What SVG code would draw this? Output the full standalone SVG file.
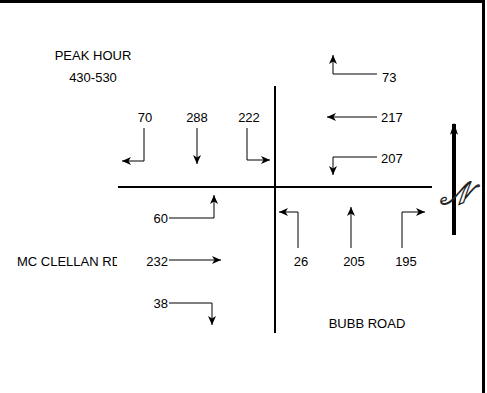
<svg xmlns="http://www.w3.org/2000/svg" width="487" height="393" viewBox="0 0 487 393">
<style>
text{font-family:"Liberation Sans",Arial,sans-serif;font-size:13px;fill:#000}
.m{text-anchor:middle}
.e{text-anchor:end}
.road{stroke:#000;stroke-width:2;fill:none}
.mv{stroke:#000;stroke-width:1;fill:none;marker-end:url(#ah)}
</style>
<defs>
<marker id="ah" markerUnits="userSpaceOnUse" markerWidth="10" markerHeight="8" refX="9" refY="4" orient="auto">
<path d="M0,0 L9,4 L0,8 L2.5,4 Z" fill="#000"/>
</marker>
<marker id="nh" markerUnits="userSpaceOnUse" markerWidth="12" markerHeight="18" refX="16" refY="6" orient="auto" viewBox="0 0 18 12">
<path d="M0,0 L18,6 L0,12 L4,6 Z" fill="#000"/>
</marker>
<clipPath id="clipRd"><rect x="0" y="240" width="117" height="40"/></clipPath>
</defs>
<rect width="487" height="393" fill="#fff"/>
<g id="frame">
<line x1="0" y1="1.5" x2="485" y2="1.5" stroke="#000" stroke-width="3"/>
<line x1="483.5" y1="0" x2="483.5" y2="393" stroke="#000" stroke-width="3"/>
</g>
<g id="roads">
<line class="road" x1="275" y1="86" x2="275" y2="333"/>
<line class="road" x1="118" y1="187" x2="432" y2="187"/>
</g>
<g id="north">
<line x1="454" y1="235" x2="454" y2="124" stroke="#000" stroke-width="4" marker-end="url(#nh)"/>
<text x="455" y="204" class="m" style="font-family:'DejaVu Serif',serif;font-size:32px;font-style:italic;fill:#fff;stroke:#222;stroke-width:1.2">𝒩</text>
</g>
<g id="labels">
<text x="93" y="60" class="m">PEAK HOUR</text>
<text x="93" y="82" class="m">430-530</text>
<text x="17" y="266" clip-path="url(#clipRd)">MC CLELLAN RD</text>
<text x="367" y="328" class="m">BUBB ROAD</text>
</g>
<g id="connectors">
<path class="mv" d="M144,128 V161 H122"/>
<path class="mv" d="M197,128 V164"/>
<path class="mv" d="M247,128 V160 H270"/>
<path class="mv" d="M377,74 H333 V55"/>
<path class="mv" d="M377,117 H327"/>
<path class="mv" d="M377,157 H333 V175"/>
<path class="mv" d="M169,218 H214 V195"/>
<path class="mv" d="M169,260 H221"/>
<path class="mv" d="M169,303 H212 V325"/>
<path class="mv" d="M298,248 V212 H279"/>
<path class="mv" d="M351,248 V207"/>
<path class="mv" d="M402,248 V212 H425"/>
</g>
<g id="volumes">
<text x="145" y="122" class="m">70</text>
<text x="197" y="122" class="m">288</text>
<text x="249" y="122" class="m">222</text>
<text x="382" y="82">73</text>
<text x="381" y="122">217</text>
<text x="381" y="163">207</text>
<text x="168" y="223" class="e">60</text>
<text x="168" y="266" class="e">232</text>
<text x="168" y="308" class="e">38</text>
<text x="301" y="266" class="m">26</text>
<text x="354" y="266" class="m">205</text>
<text x="406" y="266" class="m">195</text>
</g>
</svg>
